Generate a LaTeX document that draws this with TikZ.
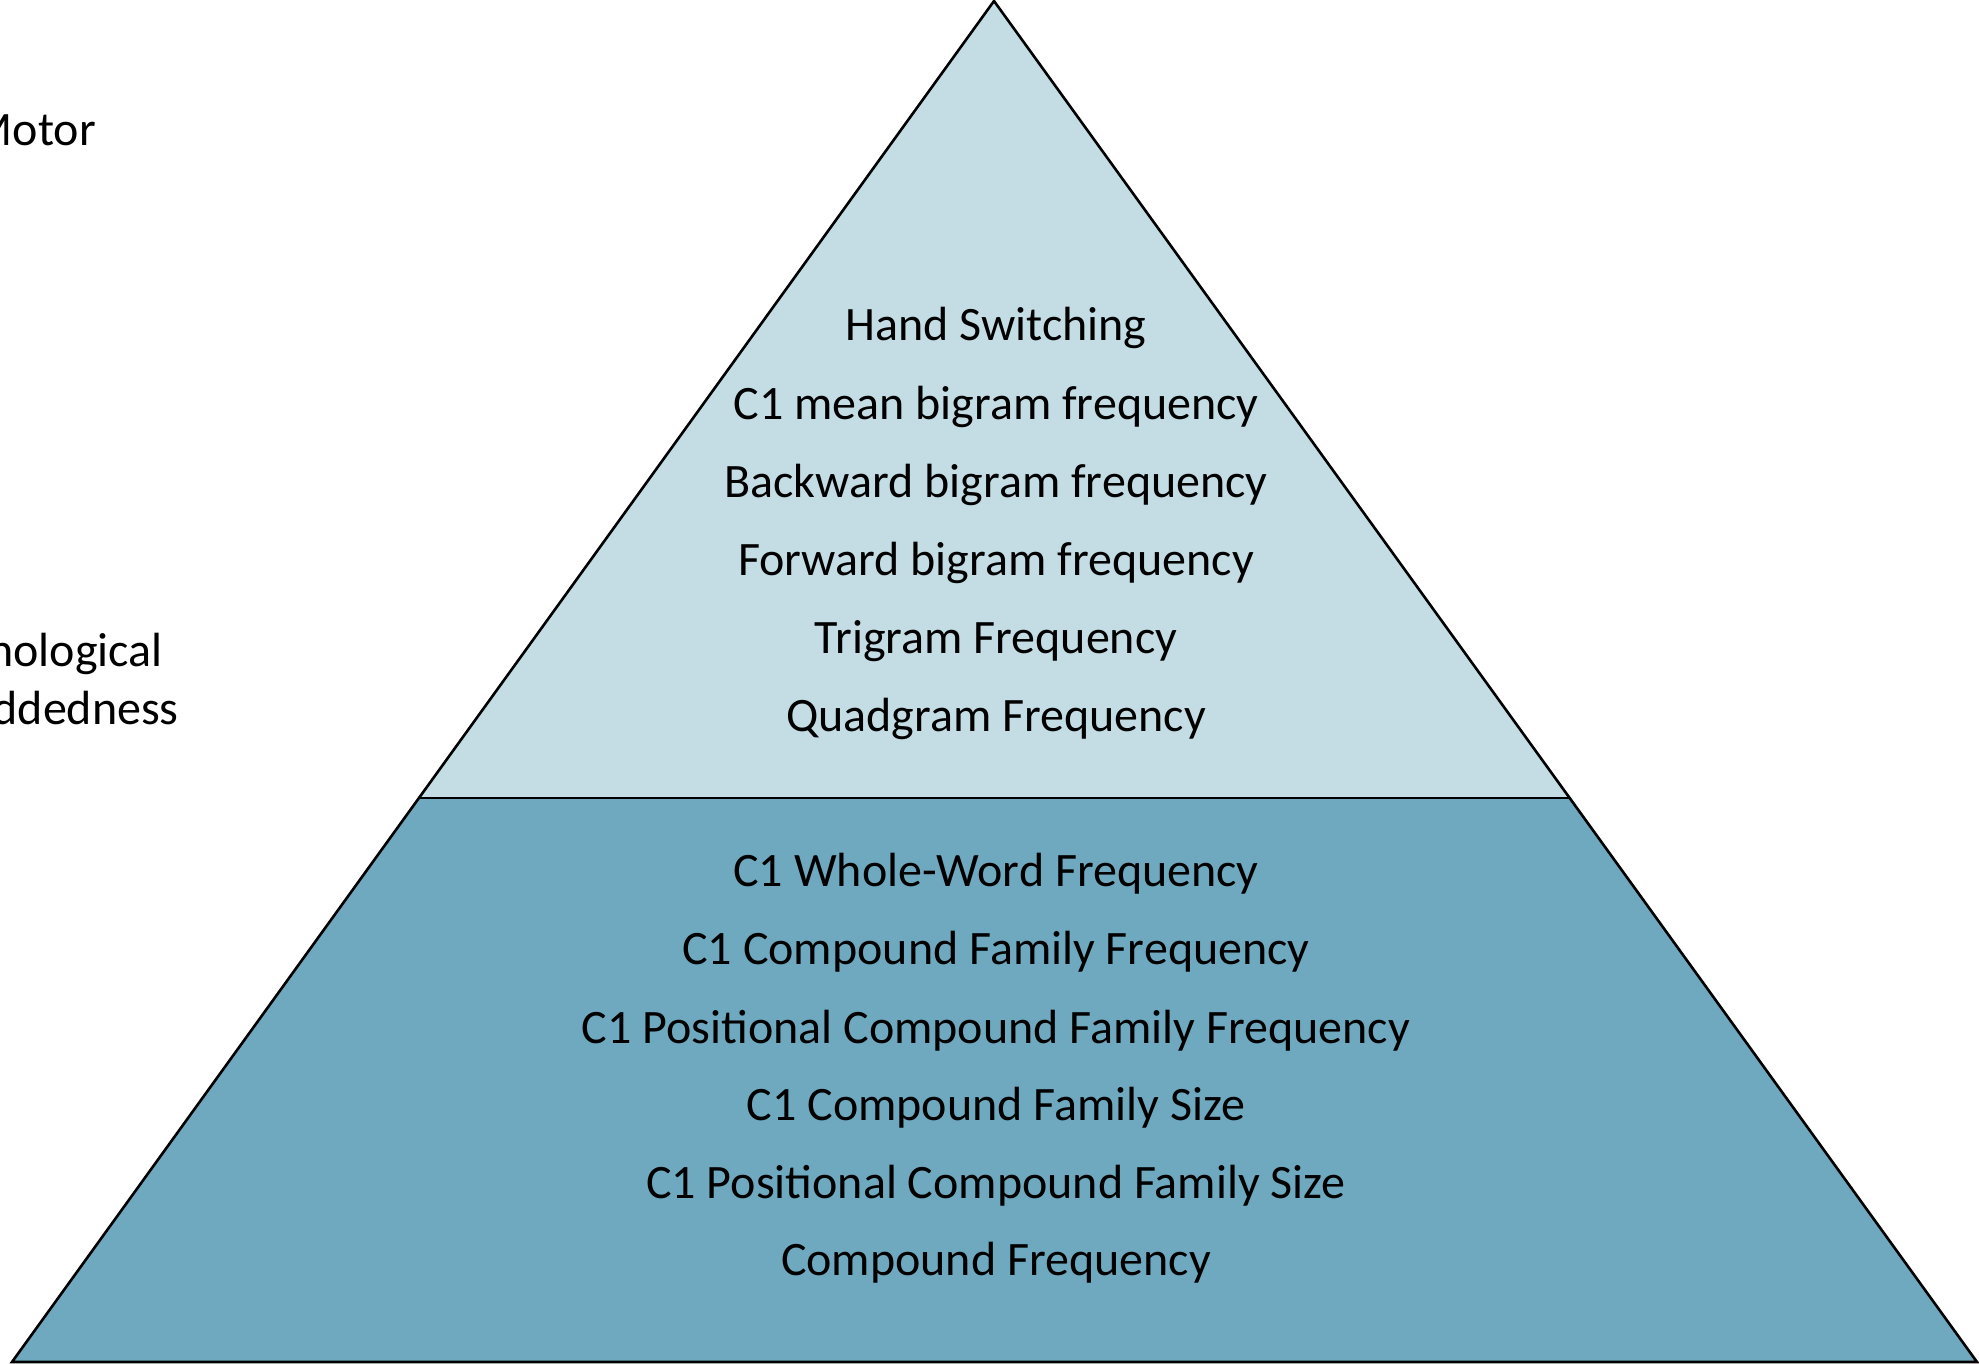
\documentclass[tikz,border=0pt]{standalone}
\usepackage{fontspec}
\setmainfont{Carlito}
\definecolor{toplight}{RGB}{196,221,229}
\definecolor{botdark}{RGB}{110,169,191}
\begin{document}
\begin{tikzpicture}[x=1pt,y=-1pt,
  item/.style={font=\fontsize{48}{58}\selectfont, inner sep=0pt, anchor=base},
  side/.style={font=\fontsize{48}{58}\selectfont, inner sep=0pt, anchor=base east},
  edge/.style={draw=black, line width=2.6pt, line join=miter}]
\useasboundingbox (0,0) rectangle (1979,1364);
\coordinate (apex) at (994,1);
\coordinate (dl) at (418,798);
\coordinate (dr) at (1571,798);
\coordinate (bl) at (12,1362);
\coordinate (br) at (1977,1362);
\fill[toplight] (apex) -- (dl) -- (dr) -- cycle;
\fill[botdark] (dl) -- (dr) -- (br) -- (bl) -- cycle;
\draw[edge] (apex) -- (bl) -- (br) -- cycle;
\draw[edge] (dl) -- (dr);
\node[item] (t1) at (996,341) {Hand Switching};
\node[item] (t2) at (996,419) {C1 mean bigram frequency};
\node[item] (t3) at (996,497) {Backward bigram frequency};
\node[item] (t4) at (996,575) {Forward bigram frequency};
\node[item] (t5) at (996,653) {Trigram Frequency};
\node[item] (t6) at (996,731) {Quadgram Frequency};
\node[item] (b1) at (996,886) {C1 Whole-Word Frequency};
\node[item] (b2) at (996,964) {C1 Compound Family Frequency};
\node[item] (b3) at (996,1043) {C1 Positional Compound Family Frequency};
\node[item] (b4) at (996,1120) {C1 Compound Family Size};
\node[item] (b5) at (996,1198) {C1 Positional Compound Family Size};
\node[item] (b6) at (996,1275) {Compound Frequency};
\node[side] (m1) at (96,146) {Motor};
\node[side] (p1) at (163,666) {nological};
\node[side] (p2) at (179,724) {ddedness};
\end{tikzpicture}
\end{document}
